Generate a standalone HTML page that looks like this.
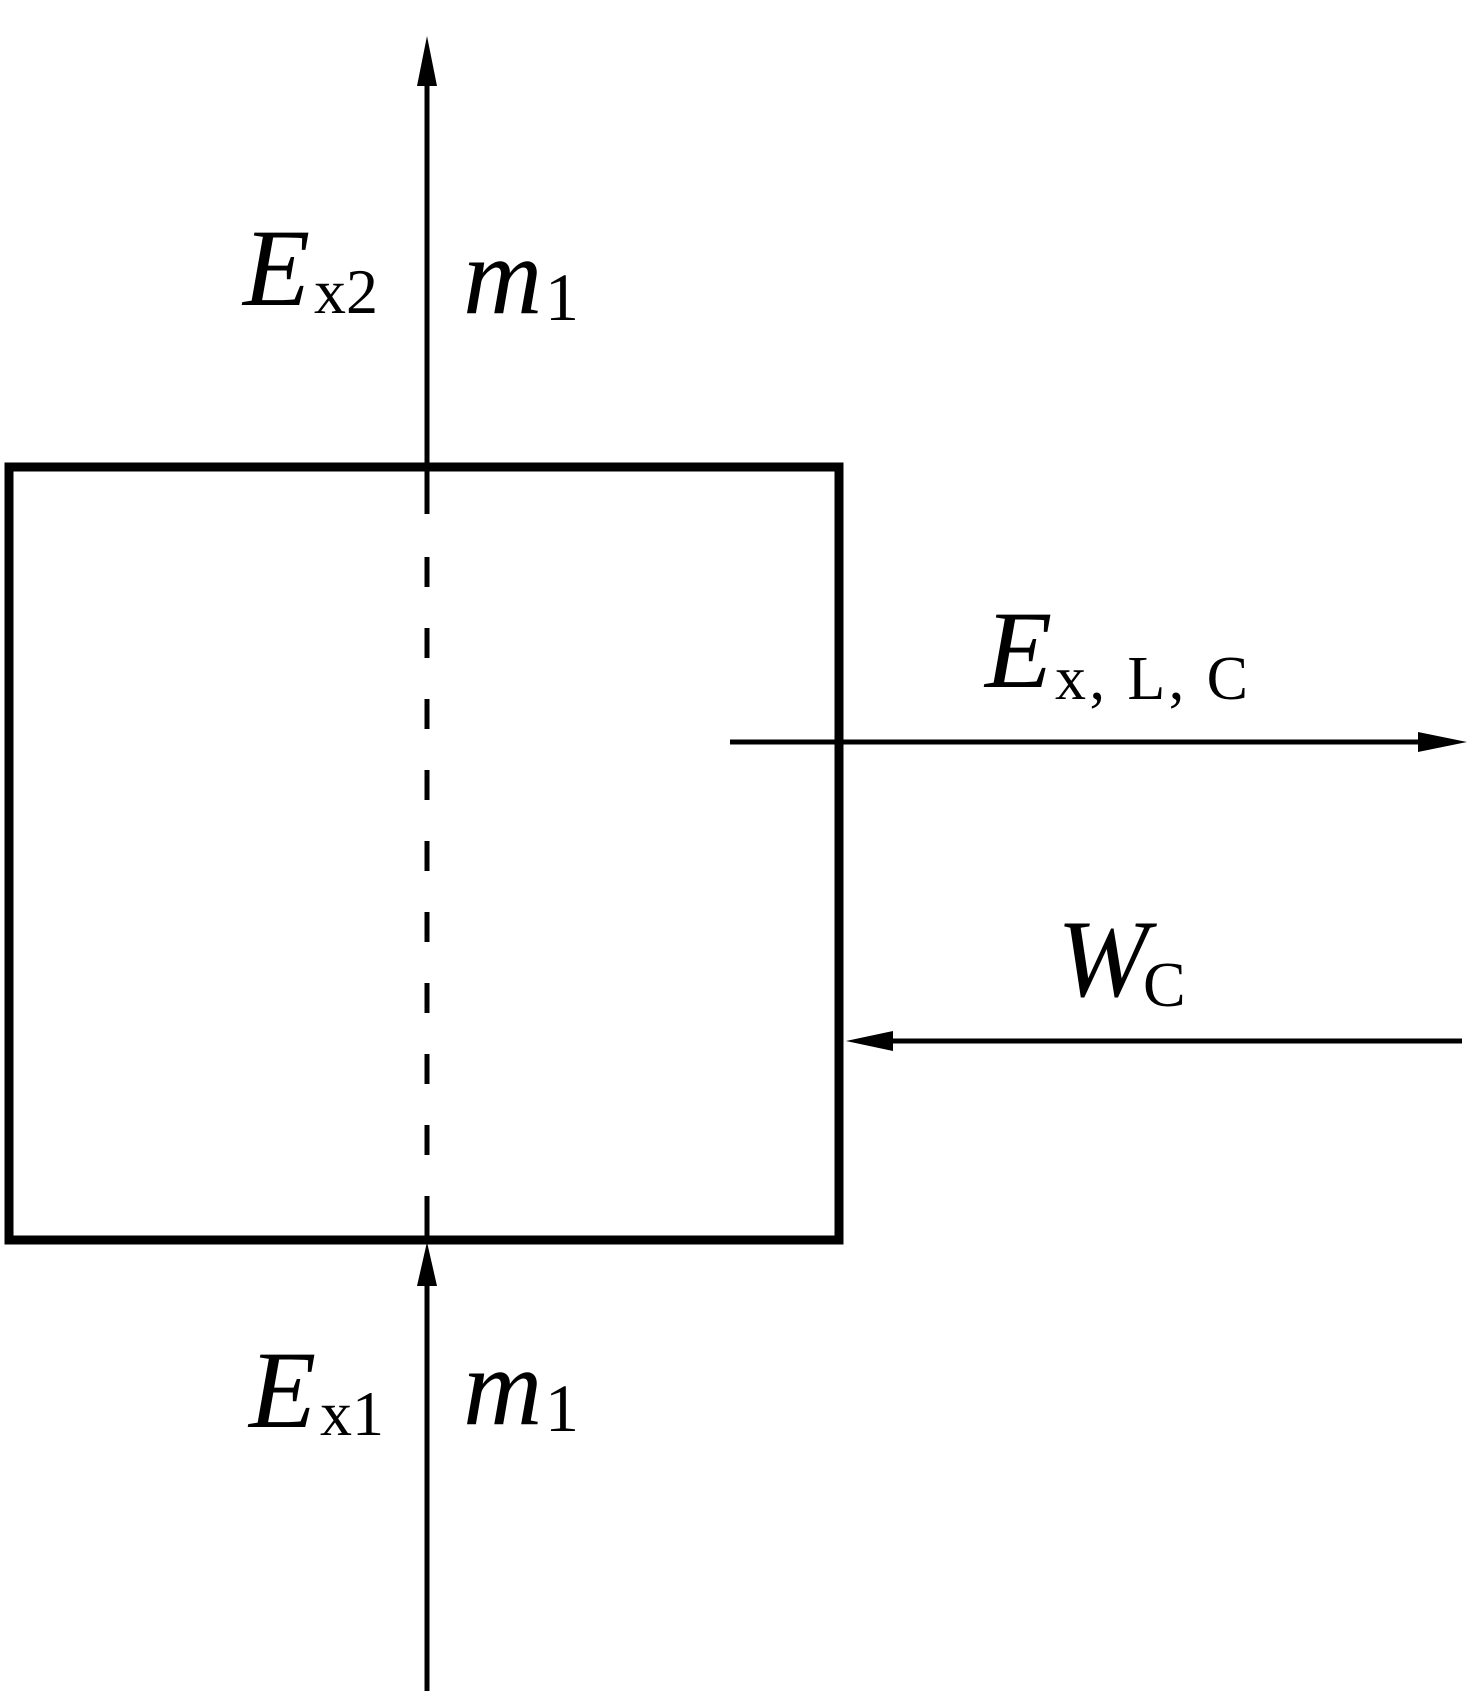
<!DOCTYPE html>
<html><head><style>html,body{margin:0;padding:0;background:#fff}
text{font-family:"Liberation Serif","Times New Roman",serif}</style></head>
<body>
<svg width="1481" height="1691" viewBox="0 0 1481 1691" xmlns="http://www.w3.org/2000/svg" style="display:block">
<g stroke="#000" fill="none">
<rect x="9" y="467" width="830" height="773" stroke-width="9"/>
<line x1="427" y1="80" x2="427" y2="514" stroke-width="5"/>
<g stroke-width="5">
<line x1="427" y1="557" x2="427" y2="587"/>
<line x1="427" y1="628" x2="427" y2="658"/>
<line x1="427" y1="699" x2="427" y2="729"/>
<line x1="427" y1="770" x2="427" y2="800"/>
<line x1="427" y1="841" x2="427" y2="871"/>
<line x1="427" y1="912" x2="427" y2="942"/>
<line x1="427" y1="983" x2="427" y2="1013"/>
<line x1="427" y1="1054" x2="427" y2="1084"/>
<line x1="427" y1="1125" x2="427" y2="1155"/>
<line x1="427" y1="1196" x2="427" y2="1240"/>
</g>
<line x1="427" y1="1280" x2="427" y2="1691" stroke-width="5"/>
<line x1="730" y1="742" x2="1420" y2="742" stroke-width="5"/>
<line x1="890" y1="1041" x2="1462" y2="1041" stroke-width="5"/>
</g>
<g fill="#000">
<polygon points="427,36 417,86 437,86"/>
<polygon points="427,1242 417,1286 437,1286"/>
<polygon points="1467,742 1418,732 1418,752"/>
<polygon points="846,1041 893,1031 893,1051"/>
</g>
<g fill="#000">
<text x="243" y="305" font-size="110" font-style="italic">E</text>
<text x="314" y="313" font-size="64">x2</text>
<text x="463" y="313" font-size="110" font-style="italic">m</text>
<text x="545" y="320" font-size="68">1</text>
<text x="249" y="1427" font-size="110" font-style="italic">E</text>
<text x="320" y="1435" font-size="64">x1</text>
<text x="463" y="1424" font-size="110" font-style="italic">m</text>
<text x="545" y="1431" font-size="68">1</text>
<text x="985" y="687" font-size="110" font-style="italic">E</text>
<text x="1055" y="699" font-size="62" textLength="193">x, L, C</text>
<text x="1057" y="996" font-size="110" font-style="italic">W</text>
<text x="1143" y="1006" font-size="64">C</text>
</g>
</svg>
</body></html>
